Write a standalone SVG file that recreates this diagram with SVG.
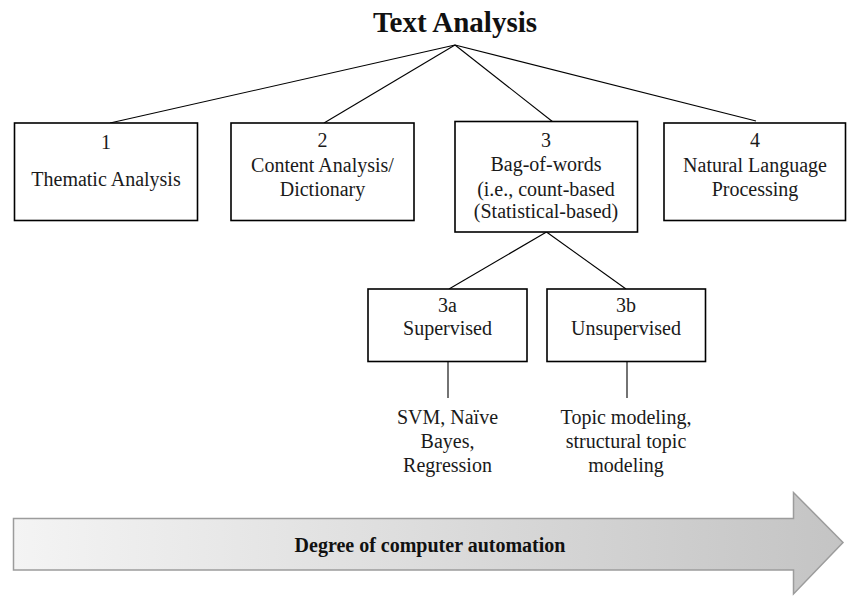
<svg xmlns="http://www.w3.org/2000/svg" width="847" height="596" viewBox="0 0 847 596">
<style>
.box{fill:#fff;stroke:#000;stroke-width:1.6}
.t{font-family:"Liberation Serif","Times New Roman",serif;font-size:20px;fill:#1a1a1a;text-anchor:middle}
.title{font-family:"Liberation Serif","Times New Roman",serif;font-size:29px;font-weight:bold;fill:#111;text-anchor:middle}
.bt{font-family:"Liberation Serif","Times New Roman",serif;font-size:20px;font-weight:bold;fill:#111;text-anchor:middle}
.c{stroke:#000;stroke-width:1.1;fill:none}
</style>
<defs>
<linearGradient id="g" gradientUnits="userSpaceOnUse" x1="13" y1="0" x2="843" y2="0">
<stop offset="0" stop-color="#f4f4f4"/>
<stop offset="1" stop-color="#c4c4c4"/>
</linearGradient>
</defs>
<rect width="847" height="596" fill="#fff"/>
<text class="title" x="455" y="32">Text Analysis</text>
<g id="connectors">
<line class="c" x1="455" y1="45" x2="110" y2="123"/>
<line class="c" x1="455" y1="45" x2="324" y2="123"/>
<line class="c" x1="455" y1="45" x2="553" y2="122"/>
<line class="c" x1="455" y1="45" x2="756" y2="121"/>
<line class="c" x1="546.5" y1="232" x2="449" y2="289"/>
<line class="c" x1="546.5" y1="232" x2="626" y2="289"/>
<line class="c" x1="448" y1="362" x2="448" y2="398"/>
<line class="c" x1="627" y1="362" x2="627" y2="398"/>
</g>
<g id="n1">
<rect class="box" x="14.5" y="123" width="183" height="97.5"/>
<text class="t" x="106" y="149">1</text>
<text class="t" x="106" y="186">Thematic Analysis</text>
</g>
<g id="n2">
<rect class="box" x="231" y="123" width="183" height="97.5"/>
<text class="t" x="322.5" y="147">2</text>
<text class="t" x="322.5" y="172">Content Analysis/</text>
<text class="t" x="322.5" y="196">Dictionary</text>
</g>
<g id="n3">
<rect class="box" x="455" y="121.5" width="182.5" height="110.5"/>
<text class="t" x="546" y="147">3</text>
<text class="t" x="546" y="171">Bag-of-words</text>
<text class="t" x="546" y="196">(i.e., count-based</text>
<text class="t" x="546" y="218">(Statistical-based)</text>
</g>
<g id="n4">
<rect class="box" x="664" y="123" width="181.5" height="97.5"/>
<text class="t" x="755" y="147">4</text>
<text class="t" x="755" y="172">Natural Language</text>
<text class="t" x="755" y="196">Processing</text>
</g>
<g id="n3a">
<rect class="box" x="368" y="289" width="159" height="72.5"/>
<text class="t" x="447.5" y="312">3a</text>
<text class="t" x="447.5" y="335">Supervised</text>
</g>
<g id="n3b">
<rect class="box" x="547" y="289" width="158.5" height="72.5"/>
<text class="t" x="626" y="312">3b</text>
<text class="t" x="626" y="335">Unsupervised</text>
</g>
<g id="n3a-methods">
<text class="t" x="447.5" y="424">SVM, Naïve</text>
<text class="t" x="447.5" y="448">Bayes,</text>
<text class="t" x="447.5" y="472">Regression</text>
</g>
<g id="n3b-methods">
<text class="t" x="626" y="424">Topic modeling,</text>
<text class="t" x="626" y="448">structural topic</text>
<text class="t" x="626" y="472">modeling</text>
</g>
<g id="automation-arrow">
<polygon points="13.5,518.5 793.5,518.5 793.5,492.5 843,542.5 793.5,594 793.5,570 13.5,570" fill="url(#g)" stroke="#9c9c9c" stroke-width="1.5"/>
<text class="bt" x="430" y="552">Degree of computer automation</text>
</g>
</svg>
